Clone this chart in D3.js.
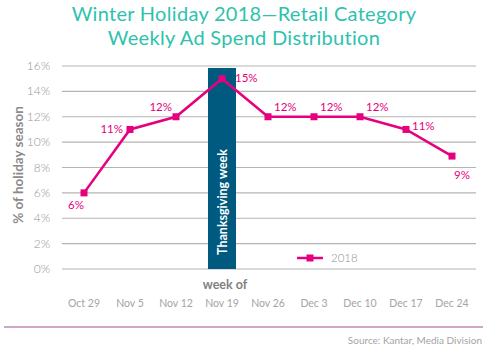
<!DOCTYPE html>
<html>
<head>
<meta charset="utf-8">
<script src="https://cdn.jsdelivr.net/npm/d3@7"></script>
<style>
	body { margin: 0; background: #fff; }
	svg { font-family: "Lato", "Open Sans", sans-serif; }
</style>
</head>
<body>
<div class="chart"></div>
<script>
// data
const weeks = ["Oct 29", "Nov 5", "Nov 12", "Nov 19", "Nov 26", "Dec 3", "Dec 10", "Dec 17", "Dec 24"];
const spend2018 = [6, 11, 12, 15, 12, 12, 12, 11, 8.9];
const valueLabels = ["6%", "11%", "12%", "15%", "12%", "12%", "12%", "11%", "9%"];
// where each label sits relative to its point
const labelPlaces = ["below-left", "left", "above-left", "right-far", "above-right", "above-right", "above-right", "right", "below"];
const yTicks = [0, 2, 4, 6, 8, 10, 12, 14, 16];
const highlightWeek = "Nov 19";

const pink = "#e6007e";
const teal = "#2ec2ad";
const grey = "#9a9a9a";

const svg = d3.select(".chart")
	.append("svg")
	.attr("width", 503)
	.attr("height", 352);

// title
svg.append("text")
	.attr("x", 244).attr("y", 21)
	.attr("text-anchor", "middle")
	.style("font-size", "20px")
	.style("letter-spacing", "0.3px")
	.style("fill", teal)
	.text("Winter Holiday 2018\u2014Retail Category");
svg.append("text")
	.attr("x", 244).attr("y", 45)
	.attr("text-anchor", "middle")
	.style("font-size", "20px")
	.style("letter-spacing", "0.3px")
	.style("fill", teal)
	.text("Weekly Ad Spend Distribution");

// scales
const x = d3.scaleBand().domain(weeks).range([61, 475]);
const y = d3.scaleLinear().domain([0, 16]).range([269, 66]);
const cx = (d) => x(d) + x.bandwidth() / 2;

// gridlines
svg.selectAll(".grid")
	.data(yTicks).enter()
	.append("line")
	.attr("x1", 62).attr("x2", 476)
	.attr("y1", (d) => y(d)).attr("y2", (d) => y(d))
	.style("stroke", "#b4b4b4")
	.style("stroke-width", 1.2);

// y tick labels
svg.selectAll(".ytick")
	.data(yTicks).enter()
	.append("text")
	.attr("x", 50)
	.attr("y", (d) => y(d) + 4)
	.attr("text-anchor", "end")
	.style("font-size", "12px")
	.style("font-weight", 300)
	.style("fill", "#959595")
	.text((d) => d + "%");

// y title
svg.append("text")
	.attr("transform", "translate(23, 165) rotate(-90)")
	.attr("text-anchor", "middle")
	.style("font-size", "13.5px")
	.style("font-weight", "bold")
	.style("fill", "#8a8a8a")
	.text("% of holiday season");

// thanksgiving bar
const barW = 28;
svg.append("rect")
	.attr("x", cx(highlightWeek) - barW / 2)
	.attr("y", 68)
	.attr("width", barW)
	.attr("height", y(0) - 68)
	.style("fill", "#005a80");
svg.append("text")
	.attr("transform", `translate(${cx(highlightWeek) + 5}, 202) rotate(-90)`)
	.attr("text-anchor", "middle")
	.style("font-size", "12.5px")
	.style("font-weight", "bold")
	.style("fill", "#fff")
	.text("Thanksgiving week");

// line
const data = weeks.map((w, i) => ({ week: w, value: spend2018[i], label: valueLabels[i], place: labelPlaces[i] }));

svg.append("path")
	.datum(data)
	.attr("d", d3.line().x((d) => cx(d.week)).y((d) => y(d.value)))
	.style("fill", "none")
	.style("stroke", pink)
	.style("stroke-width", 2.5);

svg.selectAll(".pt")
	.data(data).enter()
	.append("rect")
	.attr("x", (d) => cx(d.week) - 3.5)
	.attr("y", (d) => y(d.value) - 3.5)
	.attr("width", 7).attr("height", 7)
	.style("fill", pink);

const offsets = {
	"below-left": { dx: 0, dy: 16, anchor: "end" },
	"left": { dx: -7, dy: 4, anchor: "end" },
	"above-left": { dx: -4, dy: -6, anchor: "end" },
	"right": { dx: 6, dy: 1, anchor: "start" },
	"right-far": { dx: 13, dy: 3, anchor: "start" },
	"above-right": { dx: 6, dy: -6, anchor: "start" },
	"below": { dx: 2, dy: 23, anchor: "start" }
};

svg.selectAll(".vlabel")
	.data(data).enter()
	.append("text")
	.attr("x", (d) => cx(d.week) + offsets[d.place].dx)
	.attr("y", (d) => y(d.value) + offsets[d.place].dy)
	.attr("text-anchor", (d) => offsets[d.place].anchor)
	.style("font-size", "11.5px")
	.style("fill", pink)
	.text((d) => d.label);

// legend
const lg = svg.append("g").attr("transform", "translate(297, 258)");
lg.append("line").attr("x1", 0).attr("x2", 26).style("stroke", pink).style("stroke-width", 2.5);
lg.append("rect").attr("x", 9.5).attr("y", -3.5).attr("width", 7).attr("height", 7).style("fill", pink);
lg.append("text").attr("x", 34).attr("y", 4)
	.style("font-size", "11.5px").style("font-weight", 300).style("fill", "#8f8f8f").text("2018");

// x axis
svg.append("text")
	.attr("x", 225).attr("y", 289)
	.attr("text-anchor", "middle")
	.style("font-size", "12.5px")
	.style("font-weight", "bold")
	.style("fill", "#808080")
	.text("week of");

svg.selectAll(".xtick")
	.data(weeks).enter()
	.append("text")
	.attr("x", (d) => cx(d))
	.attr("y", 307)
	.attr("text-anchor", "middle")
	.style("font-size", "10.5px")
	.style("fill", "#a4a4a4")
	.text((d) => d);

// footer
svg.append("line")
	.attr("x1", 4).attr("x2", 483)
	.attr("y1", 327).attr("y2", 327)
	.style("stroke", "#a0508c")
	.style("stroke-width", 1);

svg.append("text")
	.attr("x", 482).attr("y", 344)
	.attr("text-anchor", "end")
	.style("font-size", "10px")
	.style("fill", "#a4a4a4")
	.text("Source: Kantar, Media Division");
</script>
</body>
</html>
